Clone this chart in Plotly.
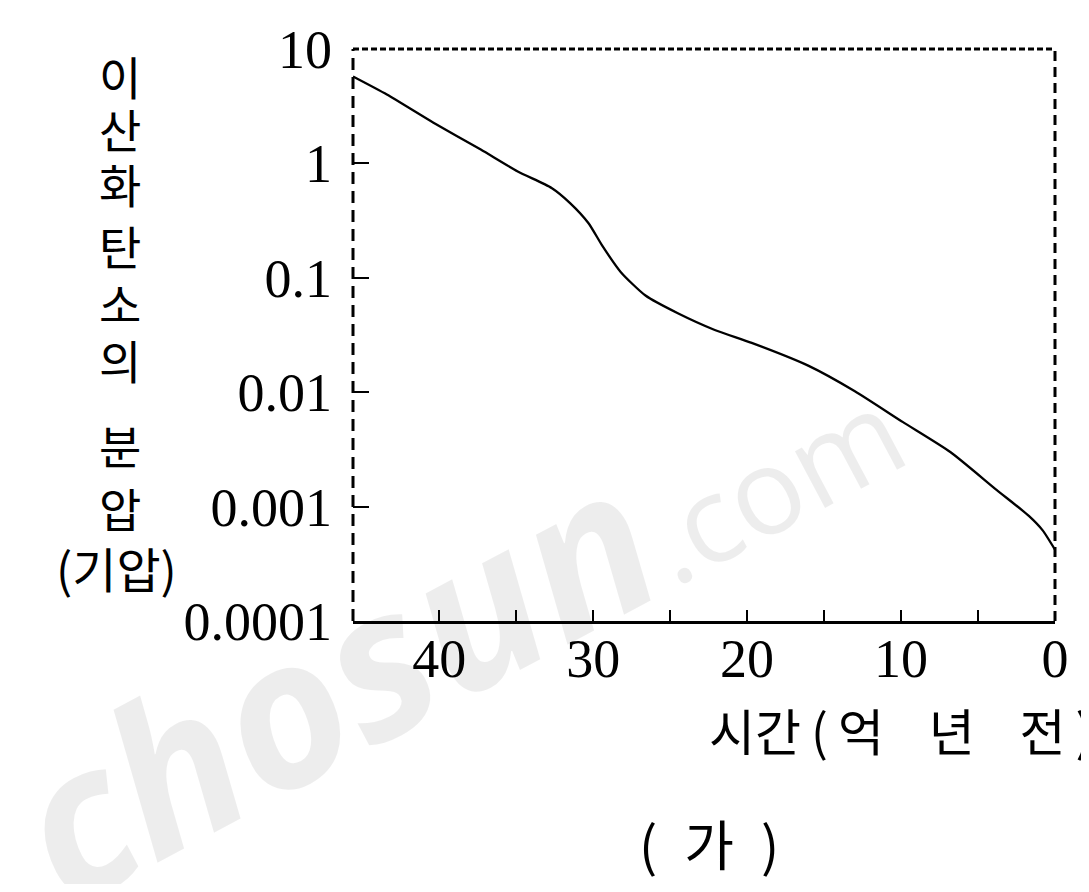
import plotly.graph_objects as go

# Data
time_ga = [45.6, 43.4, 40.4, 37.3, 34.9, 32.7, 31.5, 30.3, 29.4, 28.2, 26.6,
           24.5, 22.1, 19.7, 16.0, 13.0, 9.9, 6.8, 3.8, 1.7, 0.8, 0.0]
co2_pressure = [5.75, 4.0, 2.28, 1.32, 0.85, 0.61, 0.45, 0.30, 0.19, 0.112, 0.070,
                0.049, 0.035, 0.027, 0.017, 0.0102, 0.0055, 0.0030, 0.0014, 0.00083,
                0.00062, 0.00042]

x_tick_vals = [40, 30, 20, 10, 0]
x_tick_text = ["40", "30", "20", "10", "0"]
x_minor_vals = [35, 25, 15, 5]
y_tick_vals = [10, 1, 0.1, 0.01, 0.001, 0.0001]
y_tick_text = ["10", "1", "0.1", "0.01", "0.001", "0.0001"]

y_title_top = ["이", "산", "화", "탄", "소", "의"]
y_title_bottom = ["분", "압"]
y_unit = "(기압)"
x_title = "시간\u2009(\u2009억\u00a0\u00a0\u00a0\u00a0년\u00a0\u00a0\u00a0\u00a0전\u2009)"
caption = "(\u2002가\u2002)"

OFF = 8  # default body margin of the html page
W, H = 1073, 876
L, R, T, B = 345, 13, 34, 263
PW, PH = W - L - R, H - T - B

def px(xp):
    return (xp - OFF - L) / PW

def py(yp):
    return 1 - (yp - OFF - T) / PH

fig = go.Figure()
fig.add_trace(go.Scatter(
    x=time_ga, y=co2_pressure, mode="lines",
    line=dict(color="black", width=2.3, shape="spline", smoothing=0.6),
    showlegend=False, hoverinfo="skip"))

serif = "Liberation Serif"
cjk = "Noto Sans CJK KR"

fig.update_layout(
    width=W, height=H,
    margin=dict(l=L, r=R, t=T, b=B, pad=0),
    paper_bgcolor="white", plot_bgcolor="white",
    xaxis=dict(range=[45.6, 0], showgrid=False, zeroline=False,
               showline=True, linecolor="black", linewidth=3,
               tickmode="array", tickvals=x_tick_vals, ticktext=x_tick_text,
               ticks="inside", ticklen=11, tickwidth=2, tickcolor="black",
               ticklabelstandoff=-12, ticklabeloverflow="allow",
               tickfont=dict(family=serif, size=54, color="black"),
               minor=dict(tickmode="array", tickvals=x_minor_vals, ticks="inside",
                          ticklen=11, tickwidth=2, tickcolor="black", showgrid=False)),
    yaxis=dict(type="log", range=[-4, 1], showgrid=False, zeroline=False,
               showline=False,
               tickmode="array", tickvals=y_tick_vals, ticktext=y_tick_text,
               ticks="inside", ticklen=16, tickwidth=2, tickcolor="black",
               ticklabelstandoff=20, ticklabeloverflow="allow",
               tickfont=dict(family=serif, size=54, color="black")),
)

# dashed frame
fig.add_shape(type="line", xref="paper", yref="paper", x0=0, x1=0, y0=0, y1=1,
              line=dict(color="black", width=3, dash="12px,7px"))
fig.add_shape(type="line", xref="paper", yref="paper", x0=0, x1=1, y0=1, y1=1,
              line=dict(color="black", width=3, dash="6px,3px"))
fig.add_shape(type="line", xref="paper", yref="paper", x0=1, x1=1, y0=0, y1=1,
              line=dict(color="black", width=3, dash="10px,6px"))

def note(x, y, text, size, family=cjk, color="black", angle=0, xanchor="center"):
    fig.add_annotation(xref="paper", yref="paper", x=px(x), y=py(y), text=text,
                       showarrow=False, xanchor=xanchor, yanchor="middle",
                       textangle=angle, font=dict(family=family, size=size, color=color))

# watermark
note(455, 615, "<b><i>chosun</i></b><span style='font-size:120px'>.com</span>", 205,
     family="Open Sans", color="rgba(0,0,0,0.07)", angle=-28)

# stacked y title
for ch, yy in zip(y_title_top, [68, 122, 178, 240, 298, 356]):
    note(116, yy, ch, 46)
for ch, yy in zip(y_title_bottom, [442, 506]):
    note(116, yy, ch, 46)
note(112, 566, y_unit, 48)

note(714, 730, x_title, 50, xanchor="left")
note(716, 845, caption, 54)

fig.write_html("out.html")
